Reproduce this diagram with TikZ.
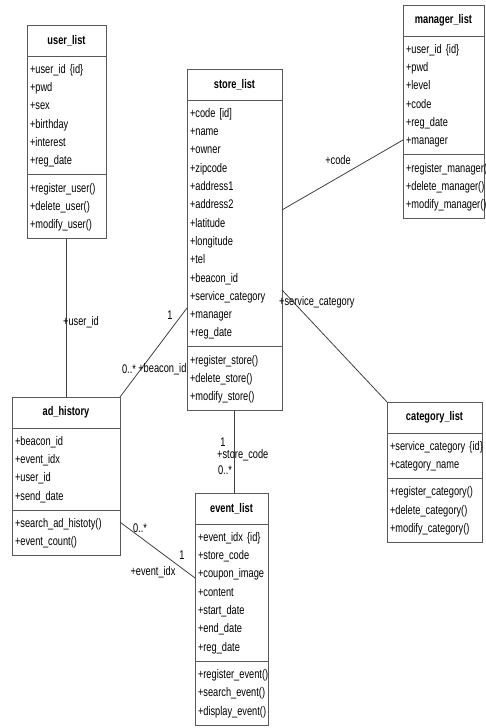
\documentclass[tikz,border=0pt]{standalone}
\usepackage{fontspec}
\setmainfont{Liberation Sans}[FakeStretch=0.74]
\usetikzlibrary{positioning,calc}

\begin{document}
\begin{tikzpicture}[
    x=1pt, y=-1pt,
    every node/.style={font=\fontsize{12.5}{18.3}\selectfont},
    cname/.style={draw=black!65, line width=0.9pt, fill=white, text width=#1, align=center, inner xsep=3pt, outer sep=0pt, minimum height=31pt, font=\fontsize{12.5}{18.3}\selectfont\bfseries},
    cpart/.style={draw=black!65, line width=0.9pt, fill=white, text width=#1, align=left, inner xsep=3pt, inner ysep=4.5pt, outer sep=0pt, execute at begin node=\strut, execute at end node=\strut},
    assoc/.style={draw=black!75, line width=0.8pt},
    role/.style={inner sep=1pt}
]
\useasboundingbox (0,0) rectangle (485,728);

% user_list
\node[cname=73pt, anchor=north west] (user) at (27,25) {user\_list};
\node[cpart=73pt, below=0pt of user] (user-a) {+user\_id \{id\}\\+pwd\\+sex\\+birthday\\+interest\\+reg\_date};
\node[cpart=73pt, below=0pt of user-a] (user-m) {+register\_user()\\+delete\_user()\\+modify\_user()};

% store_list
\node[cname=89pt, anchor=north west] (store) at (187,69) {store\_list};
\node[cpart=89pt, below=0pt of store] (store-a) {+code [id]\\+name\\+owner\\+zipcode\\+address1\\+address2\\+latitude\\+longitude\\+tel\\+beacon\_id\\+service\_category\\+manager\\+reg\_date};
\node[cpart=89pt, below=0pt of store-a] (store-m) {+register\_store()\\+delete\_store()\\+modify\_store()};

% manager_list
\node[cname=75pt, anchor=north west] (manager) at (403,5) {manager\_list};
\node[cpart=75pt, below=0pt of manager] (manager-a) {+user\_id \{id\}\\+pwd\\+level\\+code\\+reg\_date\\+manager};
\node[cpart=75pt, below=0pt of manager-a] (manager-m) {+register\_manager()\\+delete\_manager()\\+modify\_manager()};

% ad_history
\node[cname=102pt, anchor=north west] (ad) at (12,397) {ad\_history};
\node[cpart=102pt, below=0pt of ad] (ad-a) {+beacon\_id\\+event\_idx\\+user\_id\\+send\_date};
\node[cpart=102pt, below=0pt of ad-a] (ad-m) {+search\_ad\_histoty()\\+event\_count()};

% category_list
\node[cname=89pt, anchor=north west] (category) at (387,402) {category\_list};
\node[cpart=89pt, below=0pt of category] (category-a) {+service\_category~\{id\}\\+category\_name};
\node[cpart=89pt, below=0pt of category-a] (category-m) {+register\_category()\\+delete\_category()\\+modify\_category()};

% event_list
\node[cname=67pt, anchor=north west] (event) at (195,493) {event\_list};
\node[cpart=67pt, below=0pt of event] (event-a) {+event\_idx \{id\}\\+store\_code\\+coupon\_image\\+content\\+start\_date\\+end\_date\\+reg\_date};
\node[cpart=67pt, below=0pt of event-a] (event-m) {+register\_event()\\+search\_event()\\+display\_event()};

% associations
\draw[assoc] (user-m.south) -- (user-m.south |- ad.north);
\draw[assoc] ([yshift=-84.5pt]store-a.west) -- (ad.north east);
\draw[assoc] ([yshift=13.5pt]store-a.east) -- ([yshift=-44.6pt]manager-a.west);
\draw[assoc] ([yshift=-66.5pt]store-a.east) -- (category.north west);
\draw[assoc] (store-m.south) -- (store-m.south |- event.north);
\draw[assoc] ([yshift=10.9pt]ad-m.east) -- ([yshift=14.6pt]event-a.west);

% role names and multiplicities
\node[role] (r-userid) at (81,322) {+user\_id};
\node[role] (m-store1) at (170,315) {1};
\node[role] (m-admany) at (129,369) {0..*};
\node[role, right=0pt of m-admany] (r-beacon) {+beacon\_id};
\node[role] (r-code) at (338,160) {+code};
\node[role, anchor=west] (r-service) at (278,302) {+service\_category};
\node[role] (m-event1) at (223,442) {1};
\node[role, anchor=west] (r-store) at (216,455) {+store\_code};
\node[role] (m-evmany) at (225,470) {0..*};
\node[role] (m-admany2) at (140,528) {0..*};
\node[role] (m-ev1) at (182,555) {1};
\node[role] (r-event) at (153,572) {+event\_idx};

\end{tikzpicture}
\end{document}
